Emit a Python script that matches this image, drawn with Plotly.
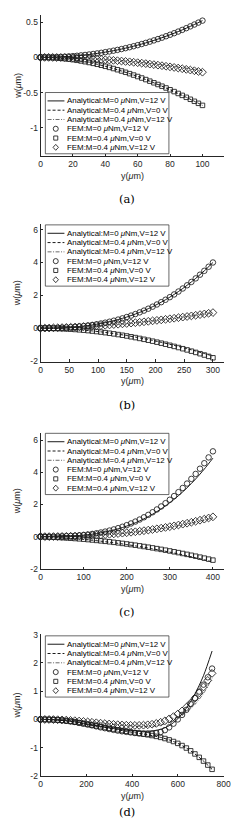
import plotly.graph_objects as go

W, H = 244, 822

# ---------------- data ----------------
legend_labels = [
    "Analytical:M=0 <i>μ</i>Nm,V=12 V",
    "Analytical:M=0.4 <i>μ</i>Nm,V=0 V",
    "Analytical:M=0.4 <i>μ</i>Nm,V=12 V",
    "FEM:M=0 <i>μ</i>Nm,V=12 V",
    "FEM:M=0.4 <i>μ</i>Nm,V=0 V",
    "FEM:M=0.4 <i>μ</i>Nm,V=12 V",
]
captions = ["(a)", "(b)", "(c)", "(d)"]

# panel (a)
xa_fem = [0, 2.5, 5, 7.5, 10, 12.5, 15, 17.5, 20, 22.5, 25, 27.5, 30, 32.5, 35, 37.5, 40, 42.5, 45, 47.5,
          50, 52.5, 55, 57.5, 60, 62.5, 65, 67.5, 70, 72.5, 75, 77.5, 80, 82.5, 85, 87.5, 90, 92.5, 95, 97.5, 100]
wa_fem_c = [0, 0.0003, 0.0011, 0.0024, 0.0043, 0.0068, 0.0098, 0.0134, 0.0176, 0.0224, 0.0278, 0.0338, 0.0405,
            0.0478, 0.0557, 0.0643, 0.0736, 0.0835, 0.0942, 0.1055, 0.1175, 0.1302, 0.1437, 0.1579, 0.1728, 0.1885,
            0.2049, 0.2221, 0.2401, 0.2589, 0.2784, 0.2988, 0.32, 0.342, 0.3649, 0.3886, 0.4131, 0.4385, 0.4648,
            0.492, 0.52]
wa_fem_s = [0, -0.0005, -0.0021, -0.0048, -0.0085, -0.0131, -0.0188, -0.0255, -0.0331, -0.0416, -0.0511, -0.0615,
            -0.0728, -0.0849, -0.098, -0.1118, -0.1265, -0.1419, -0.1582, -0.1752, -0.193, -0.2115, -0.2307, -0.2507,
            -0.2713, -0.2926, -0.3145, -0.3371, -0.3603, -0.384, -0.4084, -0.4333, -0.4588, -0.4847, -0.5112, -0.5382,
            -0.5657, -0.5936, -0.622, -0.6508, -0.68]
wa_fem_d = [0, -0.0001, -0.0005, -0.0012, -0.0021, -0.0033, -0.0047, -0.0064, -0.0084, -0.0106, -0.0131, -0.0159,
            -0.0189, -0.0222, -0.0257, -0.0295, -0.0336, -0.0379, -0.0425, -0.0474, -0.0525, -0.0579, -0.0635, -0.0694,
            -0.0756, -0.082, -0.0887, -0.0957, -0.1029, -0.1104, -0.1181, -0.1261, -0.1344, -0.1429, -0.1517, -0.1608,
            -0.1701, -0.1797, -0.1895, -0.1996, -0.21]
xa_ana = [0, 5, 10, 15, 20, 25, 30, 35, 40, 45, 50, 55, 60, 65, 70, 75, 80, 85, 90, 95, 100]
wa_ana_1 = [0, 0.0011, 0.0043, 0.0098, 0.0176, 0.0278, 0.0405, 0.0557, 0.0736, 0.0942, 0.1175, 0.1437, 0.1728,
            0.2049, 0.2401, 0.2784, 0.32, 0.3649, 0.4131, 0.4648, 0.52]
wa_ana_2 = [0, -0.0021, -0.0085, -0.0188, -0.0331, -0.0511, -0.0728, -0.098, -0.1265, -0.1582, -0.193, -0.2307,
            -0.2713, -0.3145, -0.3603, -0.4084, -0.4588, -0.5112, -0.5657, -0.622, -0.68]
wa_ana_3 = [0, -0.0005, -0.0019, -0.0043, -0.0076, -0.0119, -0.0171, -0.0233, -0.0304, -0.0385, -0.0475, -0.0575,
            -0.0684, -0.0803, -0.0931, -0.1069, -0.1216, -0.1373, -0.1539, -0.1715, -0.19]

# panel (b)
xb_fem = [0, 7.5, 15, 22.5, 30, 37.5, 45, 52.5, 60, 67.5, 75, 82.5, 90, 97.5, 105, 112.5, 120, 127.5, 135, 142.5,
          150, 157.5, 165, 172.5, 180, 187.5, 195, 202.5, 210, 217.5, 225, 232.5, 240, 247.5, 255, 262.5, 270,
          277.5, 285, 292.5, 300]
wb_fem_c = [0, 0.0009, 0.0039, 0.0092, 0.017, 0.0275, 0.041, 0.0578, 0.0781, 0.1021, 0.13, 0.1621, 0.1987, 0.24,
            0.2862, 0.3375, 0.3942, 0.4566, 0.5249, 0.5993, 0.68, 0.7673, 0.8615, 0.9628, 1.0714, 1.1875, 1.3114,
            1.4434, 1.5837, 1.7325, 1.89, 2.0565, 2.2323, 2.4176, 2.6126, 2.8175, 3.0326, 3.2582, 3.4945, 3.7417, 4.0]
wb_fem_s = [0, -0.0012, -0.005, -0.0112, -0.0198, -0.0309, -0.0443, -0.0602, -0.0784, -0.099, -0.1219, -0.1471,
            -0.1746, -0.2044, -0.2364, -0.2707, -0.3072, -0.3459, -0.3868, -0.4298, -0.475, -0.5223, -0.5717, -0.6232,
            -0.6768, -0.7324, -0.7901, -0.8497, -0.9114, -0.975, -1.0406, -1.1082, -1.1776, -1.249, -1.3222, -1.3973,
            -1.4742, -1.553, -1.6335, -1.7159, -1.8]
wb_fem_d = [0, 0.0055, 0.0119, 0.0192, 0.0275, 0.0367, 0.0469, 0.058, 0.07, 0.083, 0.0969, 0.1117, 0.1275, 0.1442,
            0.1619, 0.1805, 0.2, 0.2205, 0.2419, 0.2642, 0.2875, 0.3117, 0.3369, 0.363, 0.39, 0.418, 0.4469, 0.4767,
            0.5075, 0.5392, 0.5719, 0.6055, 0.64, 0.6755, 0.7119, 0.7492, 0.7875, 0.8267, 0.8669, 0.908, 0.95]
xb_ana = [0, 15, 30, 45, 60, 75, 90, 105, 120, 135, 150, 165, 180, 195, 210, 225, 240, 255, 270, 285, 300]
wb_ana_1 = [0, 0.0039, 0.017, 0.041, 0.0781, 0.13, 0.1987, 0.2862, 0.3942, 0.5249, 0.68, 0.8615, 1.0714, 1.3114,
            1.5837, 1.89, 2.2323, 2.6126, 3.0326, 3.4945, 4.0]
wb_ana_2 = [0, -0.0047, -0.0187, -0.0418, -0.074, -0.1151, -0.1648, -0.2232, -0.29, -0.3651, -0.4484, -0.5397,
            -0.6389, -0.7459, -0.8604, -0.9823, -1.1117, -1.2482, -1.3916, -1.542, -1.7]
wb_ana_3 = [0, 0.0119, 0.0275, 0.0469, 0.07, 0.0969, 0.1275, 0.1619, 0.2, 0.2419, 0.2875, 0.3369, 0.39, 0.4469,
            0.5075, 0.5719, 0.64, 0.7119, 0.7875, 0.8669, 0.95]

# panel (c)
xc_fem = [0, 10, 20, 30, 40, 50, 60, 70, 80, 90, 100, 110, 120, 130, 140, 150, 160, 170, 180, 190, 200, 210, 220,
          230, 240, 250, 260, 270, 280, 290, 300, 310, 320, 330, 340, 350, 360, 370, 380, 390, 400]
wc_fem_c = [0, 0.0003, 0.0016, 0.0043, 0.0089, 0.0158, 0.0255, 0.0385, 0.0552, 0.0761, 0.1016, 0.1322, 0.1683,
            0.2105, 0.2591, 0.3147, 0.3776, 0.4484, 0.5275, 0.6154, 0.7125, 0.8193, 0.9362, 1.0638, 1.2024, 1.3525,
            1.5147, 1.6892, 1.8767, 2.0775, 2.2922, 2.5211, 2.7648, 3.0237, 3.2982, 3.5889, 3.8961, 4.2204, 4.5621,
            4.9219, 5.3]
wc_fem_s = [0, -0.0098, -0.021, -0.0336, -0.0475, -0.0627, -0.0794, -0.0974, -0.1168, -0.1375, -0.1597, -0.1832,
            -0.2081, -0.2343, -0.2619, -0.2909, -0.3212, -0.3529, -0.386, -0.4204, -0.4563, -0.4934, -0.532, -0.5719,
            -0.6132, -0.6558, -0.6999, -0.7453, -0.7921, -0.8402, -0.8897, -0.9406, -0.9928, -1.0464, -1.1014,
            -1.1578, -1.2155, -1.2745, -1.3351, -1.3968, -1.46]
wc_fem_d = [0, 0.0005, 0.0019, 0.0043, 0.0077, 0.0122, 0.0179, 0.0248, 0.0329, 0.0423, 0.053, 0.0651, 0.0786,
            0.0936, 0.1101, 0.1281, 0.1478, 0.1692, 0.1923, 0.2171, 0.2438, 0.2723, 0.3027, 0.335, 0.3694, 0.4058,
            0.4443, 0.4849, 0.5277, 0.5728, 0.6202, 0.6699, 0.7219, 0.7764, 0.8334, 0.8929, 0.955, 1.0197, 1.0871,
            1.1572, 1.23]
xc_ana = [0, 20, 40, 60, 80, 100, 120, 140, 160, 180, 200, 220, 240, 260, 280, 300, 320, 340, 360, 380, 400]
wc_ana_1 = [0, 0.0015, 0.0082, 0.0235, 0.0508, 0.0935, 0.1548, 0.2384, 0.3474, 0.4853, 0.6555, 0.8613, 1.1062,
            1.3935, 1.7266, 2.1088, 2.5436, 3.0343, 3.5844, 4.1971, 4.876]
wc_ana_2 = [0, -0.0227, -0.0513, -0.0858, -0.1261, -0.1725, -0.2247, -0.2829, -0.3469, -0.4169, -0.4928, -0.5746,
            -0.6623, -0.7559, -0.8555, -0.9609, -1.0722, -1.1895, -1.3127, -1.4419, -1.5768]
wc_ana_3 = [0, 0.0018, 0.0073, 0.017, 0.0313, 0.0504, 0.0747, 0.1046, 0.1404, 0.1827, 0.2316, 0.2876, 0.3509,
            0.4221, 0.5013, 0.5892, 0.6858, 0.7917, 0.9073, 1.0327, 1.1685]

# panel (d)
xd_fem = [0, 18.75, 37.5, 56.25, 75, 93.75, 112.5, 131.25, 150, 168.75, 187.5, 206.25, 225, 243.75, 262.5, 281.25,
          300, 318.75, 337.5, 356.25, 375, 393.75, 412.5, 431.25, 450, 468.75, 487.5, 506.25, 525, 543.75, 562.5,
          581.25, 600, 618.75, 637.5, 656.25, 675, 693.75, 712.5, 731.25, 750]
wd_fem_c = [0, -0.001, -0.004, -0.009, -0.018, -0.03, -0.045, -0.065, -0.09, -0.12, -0.15, -0.18, -0.21, -0.245,
            -0.28, -0.31, -0.34, -0.37, -0.395, -0.42, -0.44, -0.46, -0.48, -0.495, -0.505, -0.51, -0.505, -0.485,
            -0.445, -0.38, -0.28, -0.15, 0.0, 0.16, 0.34, 0.54, 0.755, 0.985, 1.23, 1.49, 1.8]
wd_fem_s = [0, -0.001, -0.004, -0.01, -0.02, -0.035, -0.052, -0.072, -0.095, -0.12, -0.147, -0.175, -0.203, -0.231,
            -0.259, -0.287, -0.315, -0.342, -0.369, -0.395, -0.42, -0.445, -0.47, -0.495, -0.52, -0.544, -0.57, -0.6,
            -0.635, -0.676, -0.724, -0.781, -0.847, -0.924, -1.012, -1.111, -1.221, -1.342, -1.474, -1.615, -1.765]
wd_fem_d = [0, -0.0005, -0.002, -0.005, -0.01, -0.016, -0.024, -0.034, -0.045, -0.058, -0.072, -0.087, -0.102,
            -0.118, -0.133, -0.148, -0.162, -0.175, -0.187, -0.197, -0.205, -0.21, -0.212, -0.21, -0.203, -0.19,
            -0.17, -0.14, -0.1, -0.05, 0.02, 0.1, 0.19, 0.3, 0.43, 0.58, 0.75, 0.94, 1.15, 1.38, 1.63]
xd_ana = [0, 37.5, 75, 112.5, 150, 187.5, 225, 262.5, 300, 337.5, 375, 412.5, 450, 487.5, 525, 562.5, 600, 637.5,
          675, 712.5, 750]
wd_ana_1 = [0, -0.004, -0.018, -0.045, -0.085, -0.135, -0.19, -0.245, -0.3, -0.345, -0.38, -0.405, -0.415, -0.405,
            -0.35, -0.22, 0.02, 0.4, 0.9, 1.55, 2.42]
wd_ana_2 = [0, -0.004, -0.02, -0.052, -0.095, -0.147, -0.203, -0.259, -0.315, -0.369, -0.42, -0.47, -0.52, -0.57,
            -0.635, -0.724, -0.847, -1.012, -1.221, -1.474, -1.765]
wd_ana_3 = [0, -0.002, -0.01, -0.025, -0.045, -0.07, -0.1, -0.13, -0.16, -0.19, -0.215, -0.235, -0.245, -0.24, -0.2,
            -0.11, 0.04, 0.25, 0.53, 0.92, 1.45]

# tick labels
xa_ticks = [0, 20, 40, 60, 80, 100]
ya_ticks = [-1, -0.5, 0, 0.5]
ya_ticktext = ["-1", "-0.5", "0", "0.5"]
xb_ticks = [0, 50, 100, 150, 200, 250, 300]
yb_ticks = [-2, 0, 2, 4, 6]
yb_ticktext = ["-2", "0", "2", "4", "6"]
xc_ticks = [0, 100, 200, 300, 400]
yc_ticks = [-2, 0, 2, 4, 6]
yc_ticktext = ["-2", "0", "2", "4", "6"]
xd_ticks = [0, 200, 400, 600, 800]
yd_ticks = [-2, -1, 0, 1, 2, 3]
yd_ticktext = ["-2", "-1", "0", "1", "2", "3"]

# ---------------- layout helpers ----------------
def px(x):
    return x / W

def py(y):
    return 1 - y / H

AXC = "#262626"
X_LEFT, X_RIGHT = 31.7, 221.7

panels = [
    dict(xf=xa_fem, fc=wa_fem_c, fs=wa_fem_s, fd=wa_fem_d, xa=xa_ana, a1=wa_ana_1, a2=wa_ana_2, a3=wa_ana_3,
         xr=[0, 113], yr=[-1.4, 0.6], top=2, bot=145, xt=xa_ticks, yt=ya_ticks, ytt=ya_ticktext, leg_top=80.5,
         cap=188),
    dict(xf=xb_fem, fc=wb_fem_c, fs=wb_fem_s, fd=wb_fem_d, xa=xb_ana, a1=wb_ana_1, a2=wb_ana_2, a3=wb_ana_3,
         xr=[0, 318.4], yr=[-2.04, 6.32], top=214, bot=353, xt=xb_ticks, yt=yb_ticks, ytt=yb_ticktext, leg_top=214.5,
         cap=397),
    dict(xf=xc_fem, fc=wc_fem_c, fs=wc_fem_s, fd=wc_fem_d, xa=xc_ana, a1=wc_ana_1, a2=wc_ana_2, a3=wc_ana_3,
         xr=[0, 424.6], yr=[-2.02, 6.45], top=425, bot=563, xt=xc_ticks, yt=yc_ticks, ytt=yc_ticktext, leg_top=425.5,
         cap=606),
    dict(xf=xd_fem, fc=wd_fem_c, fs=wd_fem_s, fd=wd_fem_d, xa=xd_ana, a1=wd_ana_1, a2=wd_ana_2, a3=wd_ana_3,
         xr=[0, 800], yr=[-2.005, 3.01], top=629, bot=772.5, xt=xd_ticks, yt=yd_ticks, ytt=yd_ticktext, leg_top=630.5,
         cap=809),
]

line_styles = [
    dict(color="black", width=0.9),
    dict(color="black", width=0.9, dash="3px,2px"),
    dict(color="#5a5a5a", width=0.9, dash="4px,1.5px,1px,1.5px"),
]
MC = "#1a1a1a"
marker_styles = [
    dict(symbol="circle-open", size=5.5, color=MC, line=dict(width=0.85, color=MC)),
    dict(symbol="square-open", size=4.5, color=MC, line=dict(width=0.85, color=MC)),
    dict(symbol="diamond-open", size=6, color=MC, line=dict(width=0.85, color=MC)),
]

fig = go.Figure()
layout = dict(width=W, height=H, margin=dict(l=0, r=0, t=0, b=0), showlegend=False,
              paper_bgcolor="white", plot_bgcolor="white")
shapes, annotations = [], []
tickfont = dict(family="Liberation Sans, Arial, sans-serif", size=8.5, color=AXC)

for k, p in enumerate(panels):
    n = "" if k == 0 else str(k + 1)
    xref, yref = "x" + n, "y" + n
    for ana, ls in zip([p["a1"], p["a2"], p["a3"]], line_styles):
        fig.add_trace(go.Scatter(x=p["xa"], y=ana, mode="lines", line=dict(**ls, shape="spline", smoothing=0.8),
                                 xaxis=xref, yaxis=yref, hoverinfo="skip"))
    for fem, ms in zip([p["fc"], p["fs"], p["fd"]], marker_styles):
        fig.add_trace(go.Scatter(x=p["xf"], y=fem, mode="markers", marker=ms, cliponaxis=False,
                                 xaxis=xref, yaxis=yref, hoverinfo="skip"))
    layout["xaxis" + n] = dict(domain=[px(X_LEFT), px(X_RIGHT)], anchor=yref, range=p["xr"],
                               tickvals=p["xt"], ticktext=[str(v) for v in p["xt"]],
                               showline=True, linecolor=AXC, linewidth=0.8, ticks="inside", ticklen=2.5,
                               tickwidth=0.6, tickcolor=AXC, tickfont=tickfont, showgrid=False, zeroline=False)
    layout["yaxis" + n] = dict(domain=[py(p["bot"]), py(p["top"])], anchor=xref, range=p["yr"],
                               tickvals=p["yt"], ticktext=p["ytt"],
                               showline=True, linecolor=AXC, linewidth=0.8, ticks="inside", ticklen=2.5,
                               tickwidth=0.6, tickcolor=AXC, tickfont=tickfont, showgrid=False, zeroline=False)
    # axis titles and caption
    annotations.append(dict(text="y(<i>μ</i>m)", x=px(126.7), y=py(p["bot"] + 20), xref="paper", yref="paper",
                            showarrow=False, xanchor="center", yanchor="middle",
                            font=dict(family="Liberation Sans, Arial", size=9, color=AXC)))
    annotations.append(dict(text="w(<i>μ</i>m)", x=px(7.5), y=py((p["top"] + p["bot"]) / 2), xref="paper",
                            yref="paper", showarrow=False, textangle=-90, xanchor="center", yanchor="middle",
                            font=dict(family="Liberation Sans, Arial", size=9, color=AXC)))
    annotations.append(dict(text=captions[k], x=px(121), y=py(p["cap"]), xref="paper", yref="paper",
                            showarrow=False, xanchor="center", yanchor="middle",
                            font=dict(family="DejaVu Serif, serif", size=11.5, color="black")))
    # legend box (MATLAB-style, compact)
    T = p["leg_top"]
    shapes.append(dict(type="rect", xref="paper", yref="paper", x0=px(36.7), x1=px(165), y0=py(T + 62), y1=py(T),
                       line=dict(color=AXC, width=0.7), fillcolor="white", layer="above"))
    for r in range(6):
        yc = T + 8.5 + 9.4 * r
        if r < 3:
            ls = line_styles[r]
            shapes.append(dict(type="line", xref="paper", yref="paper", x0=px(39), x1=px(56.5), y0=py(yc), y1=py(yc),
                               line=ls, layer="above"))
        else:
            mk = dict(color=MC, width=0.85)
            cx = 47.5
            if r == 3:
                shapes.append(dict(type="circle", xref="paper", yref="paper", x0=px(cx - 2.6), x1=px(cx + 2.6),
                                   y0=py(yc + 2.6), y1=py(yc - 2.6), line=mk, layer="above"))
            elif r == 4:
                shapes.append(dict(type="rect", xref="paper", yref="paper", x0=px(cx - 2.1), x1=px(cx + 2.1),
                                   y0=py(yc + 2.1), y1=py(yc - 2.1), line=mk, layer="above"))
            else:
                path = "M {:.5f},{:.5f} L {:.5f},{:.5f} L {:.5f},{:.5f} L {:.5f},{:.5f} Z".format(
                    px(cx), py(yc - 3), px(cx + 2.8), py(yc), px(cx), py(yc + 3), px(cx - 2.8), py(yc))
                shapes.append(dict(type="path", xref="paper", yref="paper", path=path, line=mk, layer="above"))
        annotations.append(dict(text=legend_labels[r], x=px(57.3), y=py(yc), xref="paper", yref="paper",
                                showarrow=False, xanchor="left", yanchor="middle",
                                font=dict(family="Liberation Sans, Arial", size=7.9, color="black")))

layout["shapes"] = shapes
layout["annotations"] = annotations
fig.update_layout(**layout)
fig.write_html("out.html")
